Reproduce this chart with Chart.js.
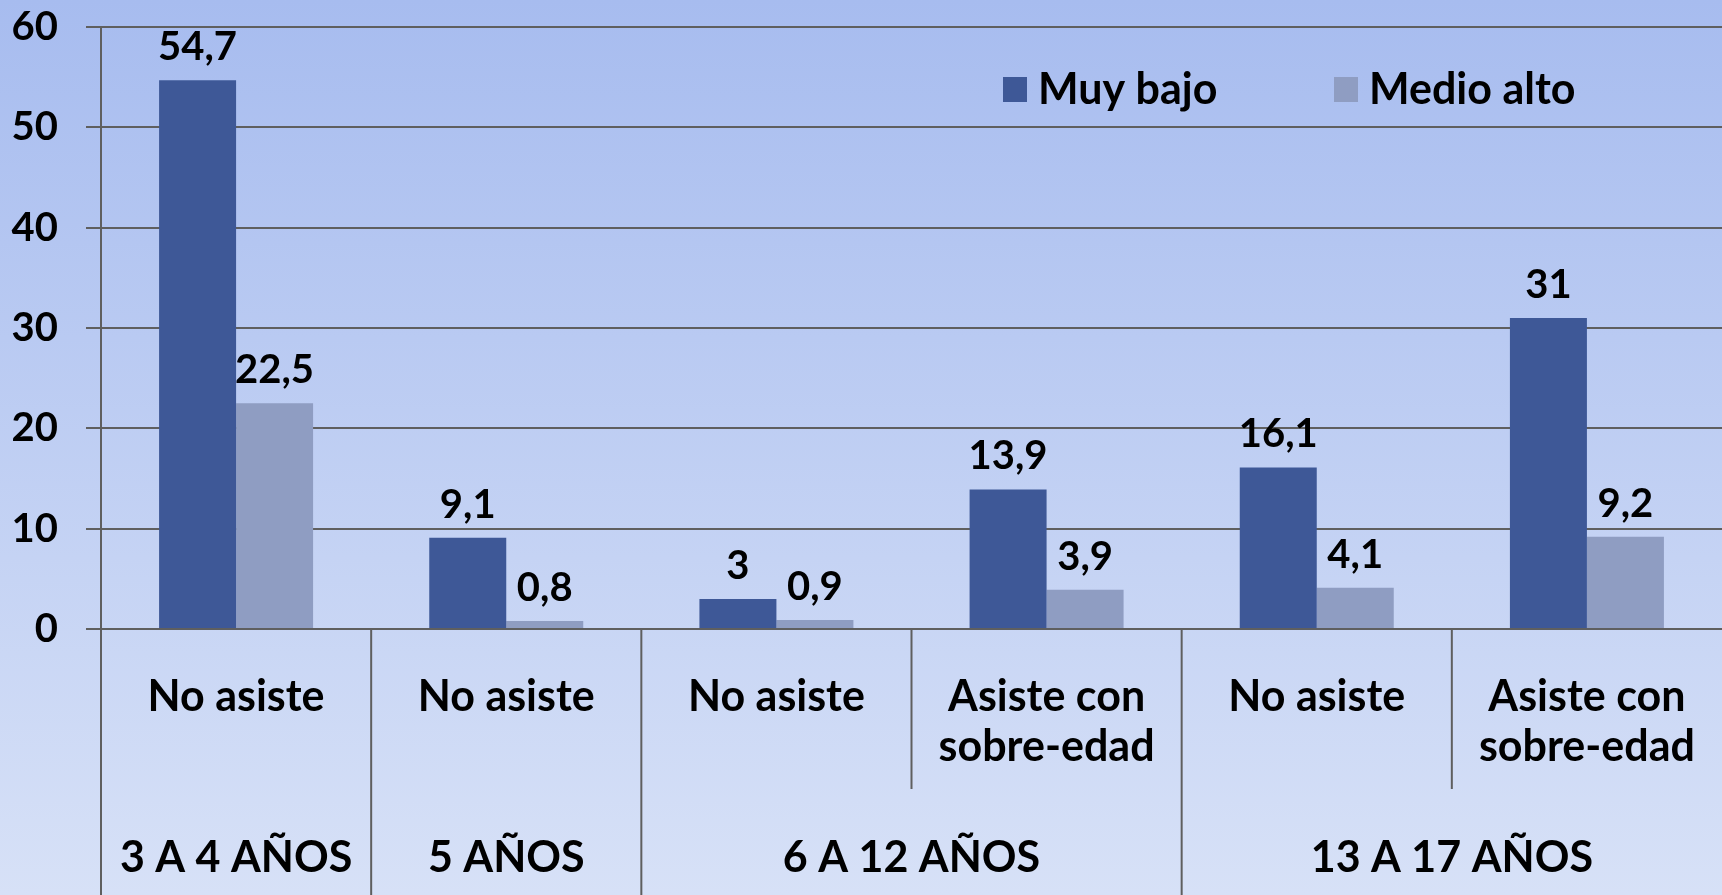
<!DOCTYPE html>
<html>
<head>
<meta charset="utf-8">
<script src="https://cdn.jsdelivr.net/npm/chart.js@4"></script>
<style>
  html, body { margin: 0; padding: 0; }
  body { width: 1722px; height: 895px; overflow: hidden; }
  #wrap { width: 1722px; height: 895px; background: linear-gradient(to bottom, #a7bcef 0%, #d7e1f7 100%); }
</style>
</head>
<body>
<div id="wrap"><canvas id="grafico" width="1722" height="895"></canvas></div>
<script>
var subcategorias = ["No asiste", "No asiste", "No asiste", ["Asiste con", "sobre-edad"], "No asiste", ["Asiste con", "sobre-edad"]];
var grupos = ["3 A 4 AÑOS", "5 AÑOS", "6 A 12 AÑOS", "13 A 17 AÑOS"];
var gruposTamano = [1, 1, 2, 2];
var muyBajo = [54.7, 9.1, 3, 13.9, 16.1, 31];
var medioAlto = [22.5, 0.8, 0.9, 3.9, 4.1, 9.2];
var ticksY = [0, 10, 20, 30, 40, 50, 60];

var fuente = 'Lato, "DejaVu Sans", sans-serif';
var gris = '#5f5f5f';

function coma(v) {
    return String(v).replace('.', ',');
}

// etiquetas de valor sobre cada barra
var etiquetasBarras = {
    id: 'etiquetasBarras',
    afterDatasetsDraw: function (chart) {
        var ctx = chart.ctx;
        ctx.save();
        ctx.font = 'bold 40px ' + fuente;
        ctx.fillStyle = '#000';
        ctx.textAlign = 'center';
        ctx.textBaseline = 'bottom';
        chart.data.datasets.forEach(function (ds, i) {
            chart.getDatasetMeta(i).data.forEach(function (bar, j) {
                ctx.fillText(coma(ds.data[j]), bar.x, bar.y - 13);
            });
        });
        ctx.restore();
    }
};

// eje x de dos niveles: separadores y nombres de grupo
var ejeDosNiveles = {
    id: 'ejeDosNiveles',
    afterDraw: function (chart) {
        var ctx = chart.ctx;
        var x = chart.scales.x;
        var area = chart.chartArea;
        var paso = x.width / subcategorias.length;
        ctx.save();
        ctx.strokeStyle = gris;
        ctx.lineWidth = 2;
        // linea del eje y hasta abajo
        ctx.beginPath();
        ctx.moveTo(area.left, area.top);
        ctx.lineTo(area.left, chart.height);
        ctx.stroke();
        // separadores
        var inicioGrupo = [0];
        var acum = 0;
        gruposTamano.forEach(function (n) { acum += n; inicioGrupo.push(acum); });
        for (var i = 1; i < subcategorias.length; i++) {
            var px = x.left + i * paso;
            var largo = inicioGrupo.indexOf(i) >= 0 ? chart.height : area.bottom + 160;
            ctx.beginPath();
            ctx.moveTo(px, area.bottom);
            ctx.lineTo(px, largo);
            ctx.stroke();
        }
        // nombres de grupo
        ctx.font = 'bold 43px ' + fuente;
        ctx.fillStyle = '#000';
        ctx.textAlign = 'center';
        ctx.textBaseline = 'middle';
        grupos.forEach(function (g, k) {
            var a = x.getPixelForValue(inicioGrupo[k]);
            var b = x.getPixelForValue(inicioGrupo[k + 1] - 1);
            ctx.fillText(g, (a + b) / 2, 858);
        });
        ctx.restore();
    }
};

// leyenda dentro del area del grafico
var leyenda = {
    id: 'leyenda',
    afterDraw: function (chart) {
        var ctx = chart.ctx;
        var posX = [1003, 1334];
        ctx.save();
        ctx.font = 'bold 43px ' + fuente;
        ctx.textAlign = 'left';
        ctx.textBaseline = 'middle';
        chart.data.datasets.forEach(function (ds, i) {
            ctx.fillStyle = ds.backgroundColor;
            ctx.fillRect(posX[i], 77, 24, 25);
            ctx.fillStyle = '#000';
            ctx.fillText(ds.label, posX[i] + 35, 90);
        });
        ctx.restore();
    }
};

var ctx = document.getElementById('grafico').getContext('2d');
var grafico = new Chart(ctx, {
    type: 'bar',
    data: {
        labels: subcategorias,
        datasets: [{
            label: 'Muy bajo',
            data: muyBajo,
            backgroundColor: '#3e5897'
        }, {
            label: 'Medio alto',
            data: medioAlto,
            backgroundColor: '#8f9dc2'
        }]
    },
    options: {
        responsive: false,
        animation: false,
        layout: { padding: { top: 27, right: 0, left: 0, bottom: 0 } },
        datasets: { bar: { categoryPercentage: 0.57, barPercentage: 1 } },
        plugins: {
            legend: { display: false },
            tooltip: { enabled: false }
        },
        scales: {
            x: {
                offset: true,
                grid: { display: false, drawTicks: false },
                border: { display: true, color: gris, width: 2 },
                ticks: {
                    color: '#000',
                    padding: 43,
                    maxRotation: 0,
                    autoSkip: false,
                    font: { family: fuente, size: 43, weight: 'bold', lineHeight: 1.17 }
                },
                afterFit: function (s) {
                    s.height = 895 - 629;
                    s.paddingLeft = 0;
                    s.paddingRight = 0;
                }
            },
            y: {
                min: 0,
                max: 60,
                afterBuildTicks: function (s) { s.ticks = ticksY.map(function (v) { return { value: v }; }); },
                grid: { color: gris, lineWidth: 2, tickLength: 15 },
                border: { display: true, color: gris, width: 2 },
                ticks: {
                    color: '#000',
                    padding: 28,
                    font: { family: fuente, size: 40, weight: 'bold' }
                },
                afterFit: function (s) {
                    s.width = 101;
                    s.paddingTop = 0;
                    s.paddingBottom = 0;
                }
            }
        }
    },
    plugins: [etiquetasBarras, ejeDosNiveles, leyenda]
});
</script>
</body>
</html>
